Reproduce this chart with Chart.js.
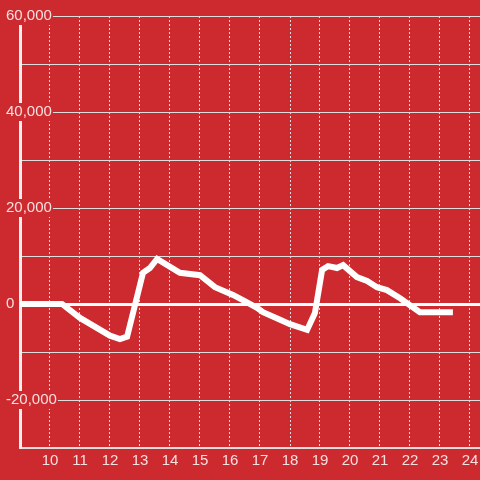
<!DOCTYPE html>
<html lang="en">
<head>
    <meta charset="UTF-8">
    <title>Line chart on red</title>
    <script src="https://cdn.jsdelivr.net/npm/chart.js"></script>
    <style>
        html, body {
            margin: 0;
            padding: 0;
            background-color: #cc2a2f;
        }
        .chart-container {
            width: 480px;
            height: 480px;
        }
    </style>
</head>
<body>
    <div class="chart-container">
        <canvas id="redLineChart"></canvas>
    </div>

    <script>
        // hour of day (x) and value (y)
        const hours = [9.0, 10.4, 11.0, 12.0, 12.33, 12.57, 13.1, 13.33, 13.57, 14.33, 15.0, 15.5, 16.1, 16.43, 16.9, 17.1, 17.67, 18.0, 18.57, 18.83, 19.07, 19.27, 19.57, 19.77, 20.23, 20.57, 20.9, 21.23, 21.67, 22.33, 23.43];
        const values = [0, 0, -2900, -6600, -7300, -6800, 6500, 7500, 9400, 6500, 6000, 3500, 1900, 800, -800, -1700, -3300, -4200, -5400, -1900, 7100, 7900, 7500, 8100, 5600, 4800, 3500, 2900, 1200, -1700, -1700];
        const xTickLabels = ['10', '11', '12', '13', '14', '15', '16', '17', '18', '19', '20', '21', '22', '23', '24'];
        const yTickLabels = [-20000, 0, 20000, 40000, 60000];

        const bgRed = '#cc2a2f';
        const labelColor = 'rgba(255, 255, 255, 0.85)';
        const gridGrey = '#ddd';

        const points = hours.map((h, i) => ({ x: h, y: values[i] }));

        const ctx = document.getElementById('redLineChart').getContext('2d');
        const chart = new Chart(ctx, {
            type: 'line',
            data: {
                datasets: [{
                    data: points,
                    borderColor: '#ffffff',
                    borderWidth: 6,
                    pointRadius: 0,
                    tension: 0,
                    fill: false
                }]
            },
            options: {
                responsive: true,
                maintainAspectRatio: false,
                animation: false,
                layout: {
                    padding: { top: 16, right: 0, left: 0, bottom: 0 }
                },
                plugins: {
                    legend: { display: false },
                    tooltip: { enabled: false }
                },
                scales: {
                    x: {
                        type: 'linear',
                        min: 9,
                        max: 9 + 460 / 30,
                        // let the plot run to the right edge of the canvas
                        afterFit: function(scale) {
                            scale.paddingLeft = 0;
                            scale.paddingRight = 0;
                            scale.height = 32;
                        },
                        grid: {
                            color: gridGrey,
                            lineWidth: 1,
                            drawTicks: false
                        },
                        border: {
                            color: gridGrey,
                            width: 2,
                            dash: [2, 2]
                        },
                        ticks: {
                            stepSize: 1,
                            includeBounds: false,
                            autoSkip: false,
                            maxRotation: 0,
                            padding: 4,
                            color: labelColor,
                            font: { family: 'Liberation Sans', size: 15 },
                            callback: function(value) {
                                const s = String(value);
                                return xTickLabels.includes(s) ? s : '';
                            }
                        }
                    },
                    y: {
                        min: -30000,
                        max: 60000,
                        afterFit: function(scale) { scale.width = 20; },
                        grid: {
                            color: (c) => (c.tick && c.tick.value === 0) ? '#ffffff' : gridGrey,
                            lineWidth: (c) => (c.tick && c.tick.value === 0) ? 3 : 1,
                            drawTicks: false
                        },
                        border: {
                            color: '#f4f0f0',
                            width: 3
                        },
                        ticks: {
                            stepSize: 10000,
                            mirror: true,
                            padding: -14,
                            color: labelColor,
                            font: { family: 'Liberation Sans', size: 15 },
                            showLabelBackdrop: true,
                            backdropColor: bgRed,
                            backdropPadding: { top: 0, bottom: 0, left: 1, right: 1 },
                            callback: function(value) {
                                return yTickLabels.includes(value) ? value.toLocaleString('en-US') : '';
                            }
                        }
                    }
                }
            }
        });
    </script>
</body>
</html>
